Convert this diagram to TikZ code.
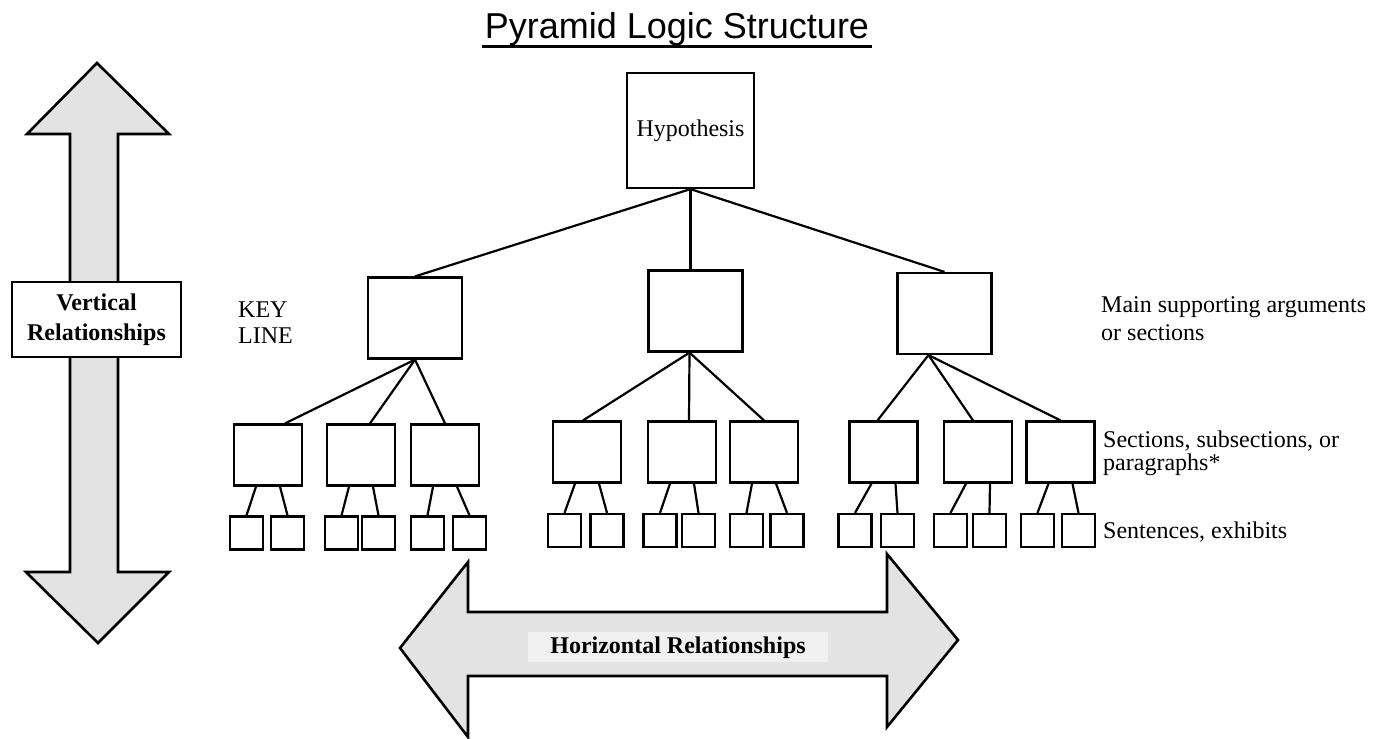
\documentclass[tikz,border=0pt]{standalone}
\usepackage{fontspec}
\setmainfont{Liberation Serif}
\newfontfamily\titlefont{Liberation Sans}
\begin{document}
\begin{tikzpicture}[x=1pt,y=-1pt,
    box/.style={draw,line width=2.2pt,inner sep=0pt},
    bigbox/.style={box,minimum width=94pt,minimum height=81pt},
    midbox/.style={box,minimum width=68pt,minimum height=61pt},
    leaf/.style={box,minimum width=33pt,minimum height=33pt},
    link/.style={line width=2.2pt},
    fatarrow/.style={draw,line width=2.6pt,fill=black!11},
    note/.style={inner sep=0pt,align=left,font=\fontsize{24}{28}\selectfont}]
    \useasboundingbox (0,0) rectangle (1379,739);
    %% title
    \node[font=\titlefont\fontsize{36}{40}\selectfont,anchor=base,inner sep=3pt] (title) at (677,38) {Pyramid Logic Structure};
    \draw[line width=3pt] ([yshift=-8pt]title.base west) -- ([yshift=-8pt]title.base east);
    %% vertical arrow
    \draw[fatarrow] (97,63) -- (169,134) -- (118,134) -- (118,572) -- (169,572) -- (98,643)
        -- (26,572) -- (70,572) -- (70,134) -- (27,134) -- cycle;
    \node[box,fill=white,minimum width=169pt,minimum height=75pt,align=center,
        font=\bfseries\fontsize{24}{30}\selectfont] (vlabel) at (96.5,319.5) {Vertical\\Relationships};
    %% horizontal arrow
    \draw[fatarrow] (400,648) -- (468,562) -- (468,612) -- (887,612) -- (887,554) -- (958,640)
        -- (887,727) -- (887,676) -- (468,676) -- (468,737) -- cycle;
    \node[font=\bfseries\fontsize{24}{28}\selectfont,anchor=base,fill=black!6,
        inner xsep=22pt,inner ysep=4pt] (hlabel) at (678,653) {Horizontal Relationships};
    %% pyramid
    \node[box,minimum width=127pt,minimum height=115pt,font=\fontsize{24}{28}\selectfont] (hyp) at (690.5,130.5) {Hypothesis};
    \node[bigbox] (arg1) at (415,318) {};
    \node[bigbox] (arg2) at (695.5,311) {};
    \node[bigbox] (arg3) at (944.5,313.5) {};
    \foreach \n/\x/\y in {1/268/455,2/361/455,3/445/455,4/587/452,5/682/452,6/764/452,
                          7/883.5/452,8/978/452,9/1060.5/452}
        \node[midbox] (sec\n) at (\x,\y) {};
    \foreach \n/\x/\y in {1/246.5/533,2/287.5/533,3/341.5/533,4/378.5/533,5/427.5/533,6/469.5/533,
                          7/564.5/530.5,8/607/530.5,9/660/530.5,10/698.5/530.5,11/746.5/530.5,12/787/530.5,
                          13/855/530.5,14/897.5/530.5,15/950.5/530.5,16/989.5/530.5,17/1037.5/530.5,18/1078.5/530.5}
        \node[leaf] (sen\n) at (\x,\y) {};
    %% connectors
    \draw[link] (hyp.south) -- (arg1.north);
    \draw[link] (hyp.south) -- (hyp.south |- arg2.north);
    \draw[link] (hyp.south) -- (arg3.north);
    \foreach \p/\ps/\c/\cs in {arg1/0/sec1/17,arg1/0/sec2/9,arg1/0/sec3/0,
                               arg2/-6/sec4/-4,arg2/-6/sec5/7,arg2/-6/sec6/0,
                               arg3/-16/sec7/-6,arg3/-16/sec8/-5,arg3/-16/sec9/0}
        \draw[link] ([xshift=\ps]\p.south) -- ([xshift=\cs]\c.north);
    \foreach \i in {1,...,9} {
        \pgfmathtruncatemacro\j{2*\i-1}
        \pgfmathtruncatemacro\k{2*\i}
        \draw[link] ([xshift=-12]sec\i.south) -- (sen\j.north);
        \draw[link] ([xshift=12]sec\i.south) -- (sen\k.north);
    }
    %% labels
    \node[note,anchor=base west,font=\fontsize{24}{26}\selectfont] (keyline) at (238,343) {KEY\\LINE};
    \node[note,anchor=base west] (mainlbl) at (1101,340) {Main supporting arguments\\or sections};
    \node[note,anchor=base west,font=\fontsize{24}{23}\selectfont] (seclbl) at (1103,470) {Sections, subsections, or\\paragraphs*};
    \node[note,anchor=base west] (sentlbl) at (1103,538) {Sentences, exhibits};
\end{tikzpicture}
\end{document}
